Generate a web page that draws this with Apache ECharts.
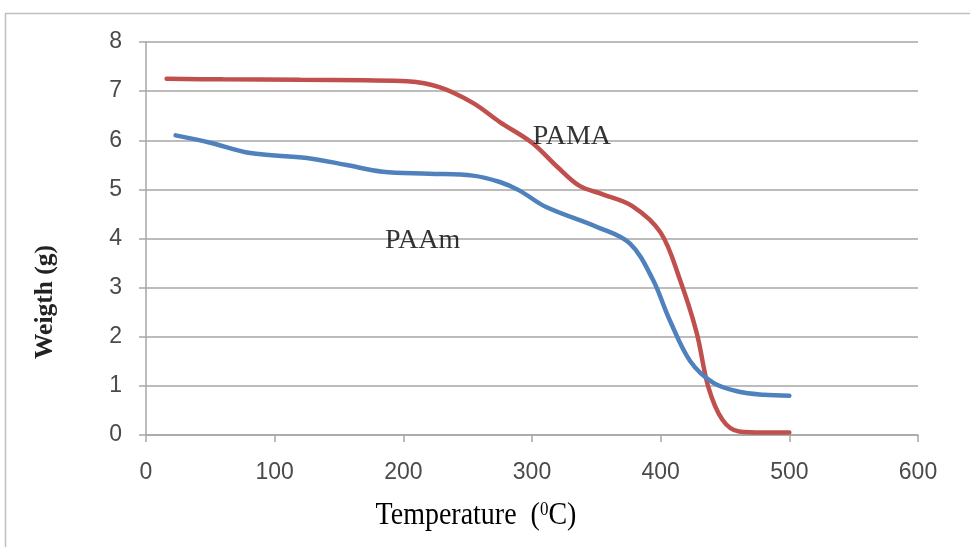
<!DOCTYPE html>
<html>
<head>
<meta charset="utf-8">
<script src="https://cdn.jsdelivr.net/npm/echarts@6/dist/echarts.min.js"></script>
<style>
  html, body { margin: 0; padding: 0; background: #fff; }
  #chart { width: 970px; height: 547px; }
</style>
</head>
<body>
<div id="chart"></div>
<script>
// Thermogravimetric curves: weight (g) against temperature (°C)
const pamaTemp   = [16, 60, 120, 170, 203, 228, 254, 275, 300, 320, 337, 355, 378, 400, 415, 428, 437, 448, 461, 480, 500];
const pamaWeight = [7.25, 7.24, 7.23, 7.22, 7.20, 7.08, 6.76, 6.37, 5.95, 5.45, 5.07, 4.90, 4.66, 4.12, 3.16, 2.08, 0.98, 0.31, 0.07, 0.05, 0.05];

const paamTemp   = [23, 50, 81, 125, 155, 184, 220, 254, 275, 290, 311, 350, 376, 394, 407, 423, 441, 461, 480, 500];
const paamWeight = [6.10, 5.95, 5.74, 5.64, 5.50, 5.36, 5.32, 5.28, 5.15, 4.98, 4.64, 4.24, 3.90, 3.16, 2.34, 1.50, 1.06, 0.88, 0.82, 0.80];

const xTicks = [0, 100, 200, 300, 400, 500, 600];
const yTicks = [0, 1, 2, 3, 4, 5, 6, 7, 8];

// Curve name labels, placed in data units
const curveLabels = [
  { name: 'PAMA', temp: 331, weight: 6.08 },
  { name: 'PAAm', temp: 215, weight: 3.95 }
];

const pair = (xs, ys) => xs.map((x, i) => [x, ys[i]]);

const tickFont = { color: '#4a4a4a', fontFamily: 'Liberation Sans', fontSize: 23 };

const chart = echarts.init(document.getElementById('chart'));
chart.setOption({
  animation: false,
  backgroundColor: '#fff',
  grid: { left: 146, right: 52, top: 42, bottom: 112 },
  xAxis: {
    type: 'value',
    min: xTicks[0], max: xTicks[xTicks.length - 1], interval: 100,
    axisLine: { show: true, lineStyle: { color: '#a6a6a6', width: 1.5 } },
    axisTick: { show: true, length: 7, lineStyle: { color: '#a6a6a6', width: 1.5 } },
    axisLabel: Object.assign({ margin: 26 }, tickFont),
    splitLine: { show: false }
  },
  yAxis: {
    type: 'value',
    min: yTicks[0], max: yTicks[yTicks.length - 1], interval: 1,
    axisLine: { show: true, lineStyle: { color: '#a6a6a6', width: 1.5 } },
    axisTick: { show: true, length: 7, lineStyle: { color: '#a6a6a6', width: 1.5 } },
    axisLabel: Object.assign({ margin: 24 }, tickFont),
    splitLine: { show: true, lineStyle: { color: '#a6a6a6', width: 1.5 } }
  },
  series: [
    {
      name: 'PAMA', type: 'line', data: pair(pamaTemp, pamaWeight),
      smooth: 0.35, showSymbol: false,
      lineStyle: { color: '#C0504D', width: 4.5, cap: 'round' }, z: 3
    },
    {
      name: 'PAAm', type: 'line', data: pair(paamTemp, paamWeight),
      smooth: 0.35, showSymbol: false,
      lineStyle: { color: '#4F81BD', width: 4.5, cap: 'round' }, z: 4
    },
    {
      type: 'scatter', symbolSize: 0, z: 5,
      data: curveLabels.map(l => ({ value: [l.temp, l.weight], label: { formatter: l.name } })),
      label: {
        show: true, position: 'inside', color: '#000',
        fontFamily: 'Liberation Serif', fontSize: 28
      }
    }
  ],
  graphic: [
    {
      type: 'rect', shape: { x: 5.5, y: 13.5, width: 1000, height: 600 },
      style: { fill: 'none', stroke: '#bfbfbf', lineWidth: 1.5 }, silent: true, z: -1
    },
    {
      type: 'text', x: 45, y: 302, rotation: Math.PI / 2, originX: 0, originY: 0,
      style: {
        text: 'Weigth (g)', fill: '#222', font: 'bold 25.5px "Liberation Serif"',
        align: 'center', verticalAlign: 'middle'
      }
    },
    {
      type: 'text', x: 476, y: 516, scaleY: 1.1,
      style: {
        text: '{m|Temperature  (}{s|0}{m|C)}',
        align: 'center', verticalAlign: 'middle',
        rich: {
          m: { fontFamily: 'Liberation Serif', fontSize: 28, fill: '#000', color: '#000' },
          s: { fontFamily: 'Liberation Serif', fontSize: 17, fill: '#000', color: '#000', verticalAlign: 'top', padding: [0, 0, 10, 0] }
        }
      }
    }
  ]
});
</script>
</body>
</html>
